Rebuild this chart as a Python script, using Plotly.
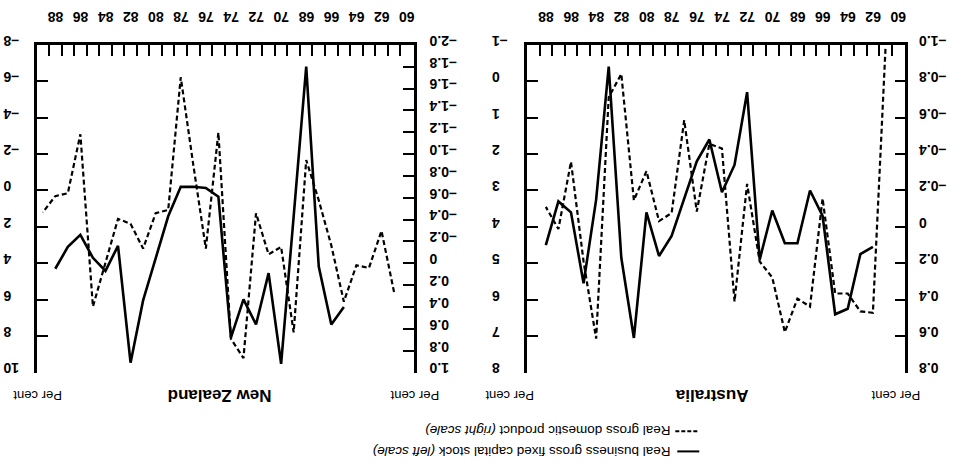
import plotly.graph_objects as go

# Annual growth series (per cent), New Zealand and Australia
nz_gdp_years = list(range(1961, 1990))
nz_gdp = [5.58, 2.22, 4.26, 4.11, 6.11, 3.02, 0.54, -1.67, 7.8, 3.1,
          3.51, 1.25, 9.21, 8.15, -3.18, 3.19, -1.41, -6.22, 1.07, 1.25,
          3.19, 1.83, 1.56, 3.99, 6.38, -3.09, 0.15, 0.31, 1.21]

nz_cap_years = list(range(1965, 1989))
nz_cap = [0.40, 0.56, 0.03, -1.80, -0.43, 0.92, 0.09, 0.56, 0.33, 0.68,
          -0.61, -0.69, -0.70, -0.70, -0.43, -0.05, 0.34, 0.91, -0.16, 0.07,
          -0.05, -0.26, -0.15, 0.05]

au_gdp_years = list(range(1961, 1989))
au_gdp = [-0.89, 6.36, 6.32, 5.83, 5.83, 3.22, 6.19, 5.97, 6.89, 5.39,
          4.95, 2.82, 6.05, 1.85, 1.72, 3.58, 1.07, 3.62, 3.84, 2.47,
          3.27, -0.20, 0.44, 7.07, 4.95, 2.21, 4.06, 3.45]

au_cap_years = list(range(1962, 1989))
au_cap = [0.11, 0.15, 0.45, 0.48, -0.06, -0.20, 0.09, 0.09, -0.09, 0.18,
          -0.74, -0.34, -0.19, -0.48, -0.36, -0.16, 0.05, 0.16, -0.08, 0.61,
          0.17, -0.88, -0.15, 0.31, -0.08, -0.14, 0.10]

# Axis tick values
year_labels = list(range(1960, 1989, 2))
year_marks = [y + 0.5 for y in range(1960, 1989)]
nz_gdp_ticks = list(range(-8, 11, 2))
nz_cap_ticks = [round(-2.0 + 0.2 * i, 1) for i in range(16)]
au_gdp_ticks = list(range(-1, 9))
au_cap_ticks = [round(-1.0 + 0.2 * i, 1) for i in range(10)]

W, H = 965, 467
INK = "black"
FONT = "Liberation Sans, Arial, sans-serif"
DASH = "\u2013"


def fmt_int(v):
    return f"{DASH}{abs(v)}" if v < 0 else f"{v}"


def fmt_dec(v):
    if abs(v) < 1e-9:
        return "0"
    return f"{DASH}{abs(v):.1f}" if v < 0 else f"{v:.1f}"


# The whole page is drawn turned half a revolution: axes reversed and
# every piece of text rotated by 180 degrees.
nz_dom = [37 / W, 414.3 / W]
au_dom = [528 / W, 906.3 / W]
y_dom = [1 - 373.3 / H, 1 - 34 / H]

tick_font = dict(family=FONT, size=14, color=INK, weight="bold")

fig = go.Figure()
fig.add_trace(go.Scatter(x=nz_gdp_years, y=nz_gdp, xaxis="x", yaxis="y",
                         mode="lines", line=dict(color=INK, width=2.2, dash="5px,3px"),
                         showlegend=False))
fig.add_trace(go.Scatter(x=nz_cap_years, y=nz_cap, xaxis="x", yaxis="y2",
                         mode="lines", line=dict(color=INK, width=2.6),
                         showlegend=False))
fig.add_trace(go.Scatter(x=au_gdp_years, y=au_gdp, xaxis="x2", yaxis="y3",
                         mode="lines", line=dict(color=INK, width=2.2, dash="5px,3px"),
                         showlegend=False))
fig.add_trace(go.Scatter(x=au_cap_years, y=au_cap, xaxis="x2", yaxis="y4",
                         mode="lines", line=dict(color=INK, width=2.6),
                         showlegend=False))
# Empty traces so the label-only axes get drawn
fig.add_trace(go.Scatter(x=[], y=[], xaxis="x", yaxis="y5", showlegend=False, hoverinfo="skip"))
fig.add_trace(go.Scatter(x=[], y=[], xaxis="x2", yaxis="y6", showlegend=False, hoverinfo="skip"))


def xaxis_cfg(domain, anchor):
    return dict(domain=domain, anchor=anchor, side="top",
                range=[1989.46, 1959.42],
                tickmode="array", tickvals=year_labels,
                ticktext=[str(y)[2:] for y in year_labels],
                ticks="", tickangle=180, tickfont=tick_font,
                ticklabelstandoff=10, ticklabelshift=-8,
                showline=True, linewidth=2.5, linecolor=INK,
                showgrid=False, zeroline=False,
                minor=dict(tickmode="array", tickvals=year_marks, ticks="inside",
                           ticklen=11, tickwidth=1.6, tickcolor=INK, showgrid=False))


def yaxis_cfg(anchor, side, rng, ticks, fmt, overlaying=None, labels=True, standoff=0):
    cfg = dict(domain=y_dom, anchor=anchor, side=side, range=rng,
               tickmode="array", tickvals=ticks, ticktext=[fmt(v) for v in ticks],
               ticks="inside", ticklen=11, tickwidth=2, tickcolor=INK,
               tickangle=180, tickfont=tick_font, showticklabels=labels,
               ticklabelstandoff=standoff,
               showline=True, linewidth=2.5, linecolor=INK,
               showgrid=False, zeroline=False)
    if overlaying:
        cfg["overlaying"] = overlaying
    return cfg


def label_axis(base, pos, rng, ticks, fmt):
    # Label-only axis: carries the turned tick text beside the outer frame edge
    return dict(overlaying=base, anchor="free", position=pos / W, side="left",
                range=rng, tickmode="array", tickvals=ticks,
                ticktext=[fmt(v) for v in ticks], ticks="", showline=False,
                tickangle=180, tickfont=tick_font, showgrid=False, zeroline=False)


fig.update_layout(
    width=W, height=H,
    margin=dict(l=0, r=0, t=0, b=0),
    paper_bgcolor="white", plot_bgcolor="white",
    font=dict(family=FONT, color=INK),
    xaxis=xaxis_cfg(nz_dom, "y"),
    xaxis2=xaxis_cfg(au_dom, "y3"),
    yaxis=yaxis_cfg("x", "left", [10, -8], nz_gdp_ticks, fmt_int, standoff=28),
    yaxis2=yaxis_cfg("x", "right", [1.0, -2.0], nz_cap_ticks, fmt_dec, "y", labels=False),
    yaxis3=yaxis_cfg("x2", "left", [8, -1], au_gdp_ticks, fmt_int, standoff=30),
    yaxis4=yaxis_cfg("x2", "right", [0.8, -1.0], au_cap_ticks, fmt_dec, "y3", labels=False),
    yaxis5=label_axis("y", 430, [1.0, -2.0], nz_cap_ticks, fmt_dec),
    yaxis6=label_axis("y3", 920, [0.8, -1.0], au_cap_ticks, fmt_dec),
)


def note(text, x, y, size=13, bold=False, xanchor="center"):
    if bold:
        text = f"<b>{text}</b>"
    fig.add_annotation(text=text, x=x / W, y=1 - y / H, xref="paper", yref="paper",
                       showarrow=False, textangle=180, xanchor=xanchor, yanchor="middle",
                       font=dict(family=FONT, size=size, color=INK))


# Panel captions
note("Per cent", 37, 397)
note("New Zealand", 220, 397, size=17, bold=True)
note("Per cent", 415, 397)
note("Per cent", 510, 397)
note("Australia", 713, 397, size=17, bold=True)
note("Per cent", 897, 397)

# Key
note("Real gross domestic product <i>(right scale)</i>", 673, 434, size=13.5, xanchor="right")
note("Real business gross fixed capital stock <i>(left scale)</i>", 673, 455, size=13.5, xanchor="right")
fig.add_shape(type="line", xref="paper", yref="paper",
              x0=676 / W, x1=700 / W, y0=1 - 434 / H, y1=1 - 434 / H,
              line=dict(color=INK, width=2, dash="4px,2px"))
fig.add_shape(type="line", xref="paper", yref="paper",
              x0=678 / W, x1=700 / W, y0=1 - 455 / H, y1=1 - 455 / H,
              line=dict(color=INK, width=2))

fig.write_html("out.html")
